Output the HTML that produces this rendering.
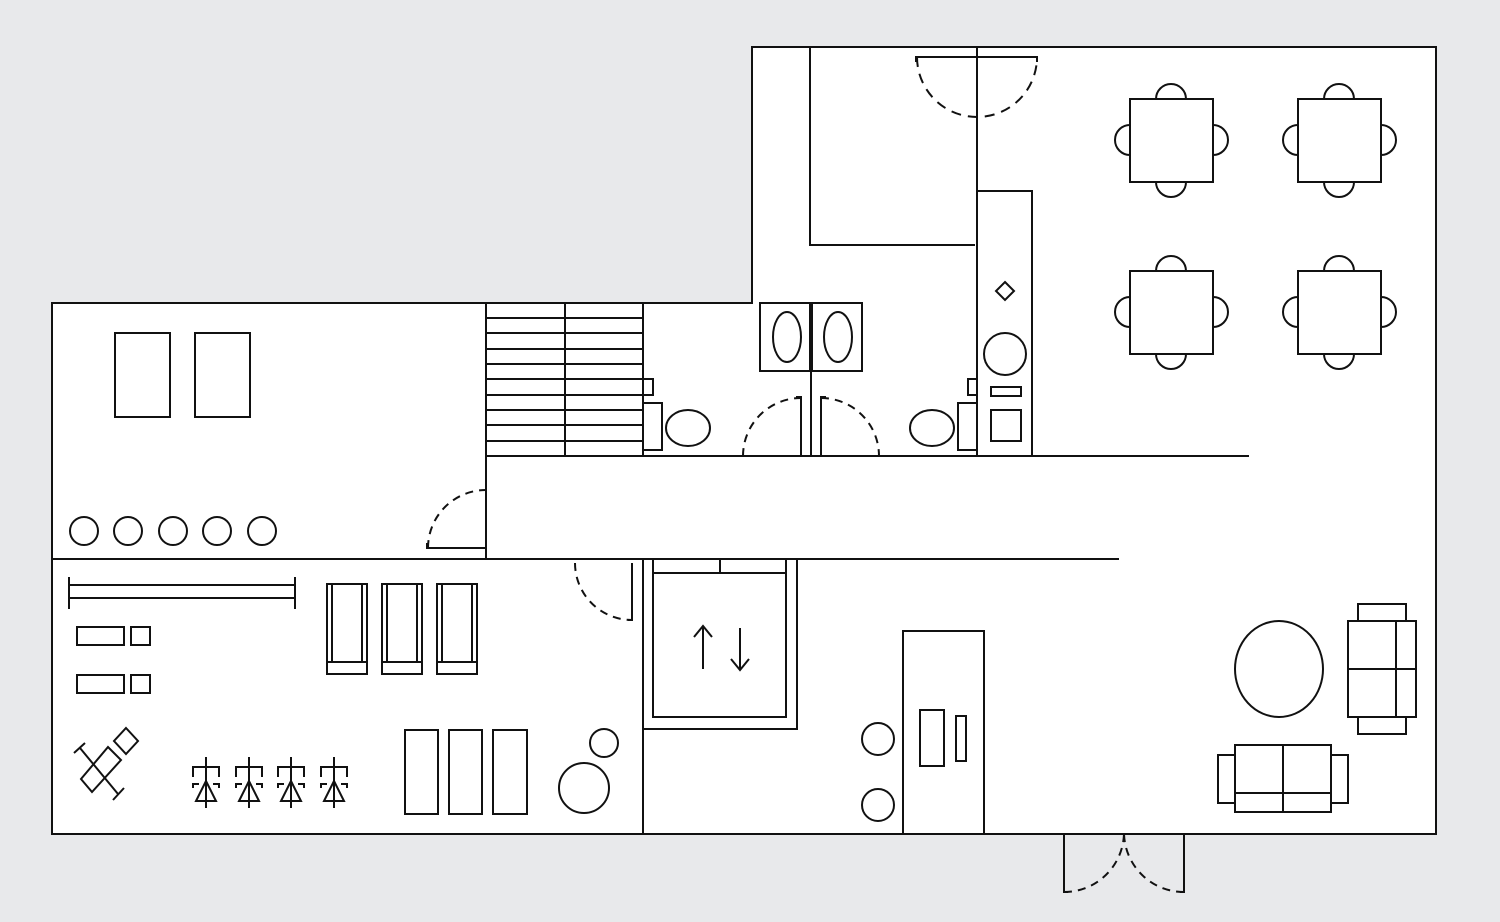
<!DOCTYPE html>
<html><head><meta charset="utf-8"><style>html,body{margin:0;padding:0;background:#e8e9eb}svg{display:block}</style></head>
<body>
<svg width="1500" height="922" viewBox="0 0 1500 922" xmlns="http://www.w3.org/2000/svg">
<rect width="1500" height="922" fill="#e8e9eb"/>
<g fill="none" stroke="#111" stroke-width="2">
<path d="M52 303 H752 V47 H1436 V834 H52 Z" fill="#fff"/>
<path d="M486 303 V559 M52 559 H1119 M486 456 H1249 M643 303 V456 M643 559 V834 M977 47 V456 M810 47 V245 H975 M977 191 H1032 V456 M811 303 V456"/>
<path d="M565 303 V456 M486 318 H643 M486 333 H643 M486 349 H643 M486 364 H643 M486 379 H643 M486 395 H643 M486 410 H643 M486 425 H643 M486 441 H643"/>
<rect x="760" y="303" width="50" height="68"/><ellipse cx="787" cy="337" rx="14" ry="25"/>
<rect x="812" y="303" width="50" height="68"/><ellipse cx="838" cy="337" rx="14" ry="25"/>
<rect x="643" y="379" width="10" height="16"/><rect x="643" y="403" width="19" height="47"/><ellipse cx="688" cy="428" rx="22" ry="18"/>
<rect x="968" y="379" width="9" height="16"/><rect x="958" y="403" width="19" height="47"/><ellipse cx="932" cy="428" rx="22" ry="18"/>
<path d="M796 397 H801 V456 M826 397 H821 V456"/>
<path d="M743 456 A58 58 0 0 1 801 398 M821 398 A58 58 0 0 1 879 456" stroke-dasharray="8 6"/>
<path d="M1005 282 L1014 291 L1005 300 L996 291 Z"/>
<circle cx="1005" cy="354" r="21"/><rect x="991" y="387" width="30" height="9"/><rect x="991" y="410" width="30" height="31"/>
<path d="M916 62 V57 H1037 V62"/>
<path d="M917 57 A60 60 0 0 0 1037 57" stroke-dasharray="10 7"/>
<g id="t"><rect x="1130" y="99" width="83" height="83"/>
<path d="M1156 99 A15 15 0 0 1 1186 99 M1156 182 A15 15 0 0 0 1186 182 M1130 125 A15 15 0 0 0 1130 155 M1213 125 A15 15 0 0 1 1213 155"/></g>
<use href="#t" x="168"/><use href="#t" y="172"/><use href="#t" x="168" y="172"/>
<rect x="115" y="333" width="55" height="84"/><rect x="195" y="333" width="55" height="84"/>
<circle cx="84" cy="531" r="14"/><circle cx="128" cy="531" r="14"/><circle cx="173" cy="531" r="14"/><circle cx="217" cy="531" r="14"/><circle cx="262" cy="531" r="14"/>
<path d="M427 543 V548 H486"/><path d="M428 548 A58 58 0 0 1 486 490" stroke-dasharray="8 6"/>
<path d="M69 585 H295 M69 598 H295 M69 577 V609 M295 577 V609"/>
<rect x="77" y="627" width="47" height="18"/><rect x="131" y="627" width="19" height="18"/>
<rect x="77" y="675" width="47" height="18"/><rect x="131" y="675" width="19" height="18"/>
<g id="l"><rect x="327" y="584" width="40" height="90"/><path d="M327 662 H367 M332 584 V662 M362 584 V662"/></g>
<use href="#l" x="55"/><use href="#l" x="110"/>
<path d="M632 563 V620 H628"/><path d="M575 563 A57 57 0 0 0 632 620" stroke-dasharray="8 6"/>
<rect x="405" y="730" width="33" height="84"/><rect x="449" y="730" width="33" height="84"/><rect x="493" y="730" width="34" height="84"/>
<circle cx="604" cy="743" r="14"/><circle cx="584" cy="788" r="25"/>
<!-- gym equipment -->
<path d="M80 748 L118 794 M74 753 L85 743 M113 800 L124 788"/>
<path d="M81 779 L108 747 L121 760 L92 792 Z"/>
<path d="M126 728 L138 741 L126 754 L114 741 Z"/>
<g id="d"><path d="M206 757 V808 M193 777 V767 H219 V777 M196 801 H216 L206 781 Z M193 788 V784 H199 M219 788 V784 H213"/></g>
<use href="#d" x="43"/><use href="#d" x="85"/><use href="#d" x="128"/>
<rect x="643" y="559" width="154" height="170"/><rect x="653" y="559" width="133" height="158"/>
<path d="M653 573 H786 M720 559 V573"/>
<path d="M703 669 V626 M694 637 L703 626 L712 637 M740 628 V670 M731 659 L740 670 L749 659"/>
<rect x="903" y="631" width="81" height="203"/><rect x="920" y="710" width="24" height="56"/><rect x="956" y="716" width="10" height="45"/>
<circle cx="878" cy="739" r="16"/><circle cx="878" cy="805" r="16"/>
<ellipse cx="1279" cy="669" rx="44" ry="48"/>
<rect x="1348" y="621" width="68" height="96"/><path d="M1348 669 H1416 M1396 621 V717"/>
<rect x="1358" y="604" width="48" height="17"/><rect x="1358" y="717" width="48" height="17"/>
<rect x="1235" y="745" width="96" height="67"/><path d="M1283 745 V812 M1235 793 H1331"/>
<rect x="1218" y="755" width="17" height="48"/><rect x="1331" y="755" width="17" height="48"/>
<path d="M1064 834 V892 H1068 M1184 834 V892 H1180"/>
<path d="M1064 892 A60 60 0 0 0 1124 834 M1184 892 A60 60 0 0 1 1124 834" stroke-dasharray="8 6"/>
</g>
</svg>
</body></html>
